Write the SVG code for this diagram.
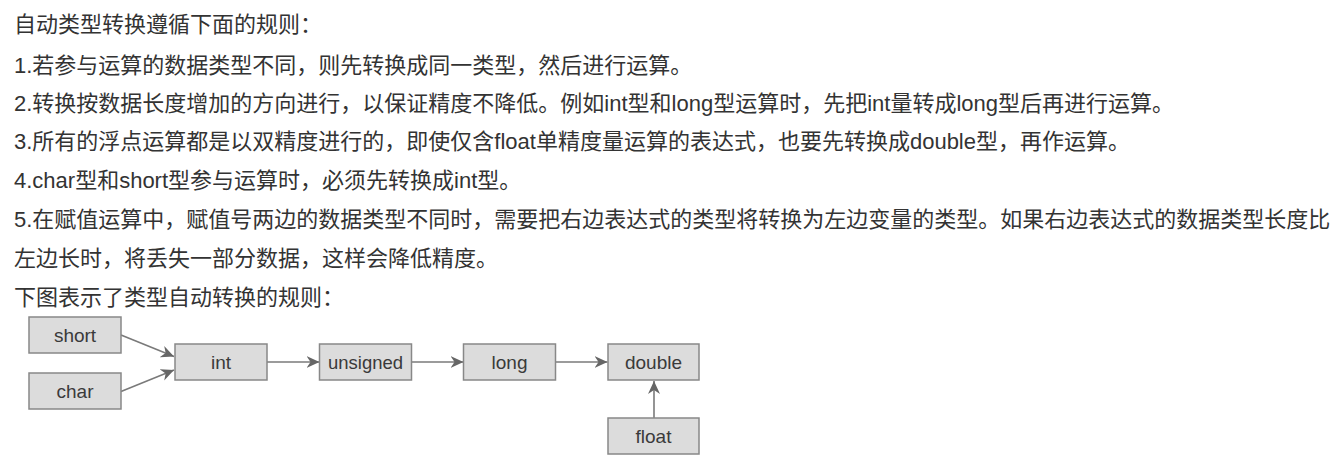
<svg xmlns="http://www.w3.org/2000/svg" width="1343" height="465" viewBox="0 0 1343 465">
<style>
.t{font-family:"Liberation Sans","Noto Sans CJK SC",sans-serif;font-size:22px;fill:#333}
.box{fill:#dcdcdc;stroke:#888;stroke-width:1.5}
.lbl{font-family:"Liberation Sans",Arial,sans-serif;font-size:19px;fill:#3a3a3a;text-anchor:middle}
.c{stroke:#7a7a7a;stroke-width:1.6;fill:none;marker-end:url(#ah)}
</style>
<defs>
<marker id="ah" markerUnits="userSpaceOnUse" markerWidth="14" markerHeight="13" refX="13" refY="6" orient="auto">
<path d="M0,0 L13,6 L0,12 L4,6 z" fill="#666"/>
</marker>
</defs>
<rect width="1343" height="465" fill="#fff"/>
<g id="text">
<text class="t" x="14" y="31.5">自动类型转换遵循下面的规则：</text>
<text class="t" x="14" y="72.5">1.若参与运算的数据类型不同，则先转换成同一类型，然后进行运算。</text>
<text class="t" x="14" y="110.5">2.转换按数据长度增加的方向进行，以保证精度不降低。例如int型和long型运算时，先把int量转成long型后再进行运算。</text>
<text class="t" x="14" y="149">3.所有的浮点运算都是以双精度进行的，即使仅含float单精度量运算的表达式，也要先转换成double型，再作运算。</text>
<text class="t" x="14" y="187.5">4.char型和short型参与运算时，必须先转换成int型。</text>
<text class="t" x="14" y="227">5.在赋值运算中，赋值号两边的数据类型不同时，需要把右边表达式的类型将转换为左边变量的类型。如果右边表达式的数据类型长度比</text>
<text class="t" x="14" y="266">左边长时，将丢失一部分数据，这样会降低精度。</text>
<text class="t" x="14" y="304.5">下图表示了类型自动转换的规则：</text>
</g>
<g id="connectors">
<line class="c" x1="121" y1="335" x2="174" y2="356.5"/>
<line class="c" x1="121" y1="391.5" x2="174" y2="370"/>
<line class="c" x1="267" y1="362" x2="319.5" y2="362"/>
<line class="c" x1="411.5" y1="362" x2="463.5" y2="362"/>
<line class="c" x1="555.5" y1="362" x2="607.5" y2="362"/>
<line class="c" x1="654" y1="418" x2="654" y2="381"/>
</g>
<g id="short"><rect class="box" x="29" y="317" width="92" height="36"/><text class="lbl" x="75" y="342">short</text></g>
<g id="char"><rect class="box" x="29" y="373" width="92" height="36"/><text class="lbl" x="75" y="398">char</text></g>
<g id="int"><rect class="box" x="175" y="344" width="92" height="36"/><text class="lbl" x="221" y="369">int</text></g>
<g id="unsigned"><rect class="box" x="319.5" y="344" width="92" height="36"/><text class="lbl" x="365.5" y="369" textLength="75" lengthAdjust="spacingAndGlyphs">unsigned</text></g>
<g id="long"><rect class="box" x="463.5" y="344" width="92" height="36"/><text class="lbl" x="509.5" y="369">long</text></g>
<g id="double"><rect class="box" x="608" y="344" width="91" height="36"/><text class="lbl" x="653.5" y="369">double</text></g>
<g id="float"><rect class="box" x="608" y="418" width="91" height="36"/><text class="lbl" x="653.5" y="443">float</text></g>
</svg>
